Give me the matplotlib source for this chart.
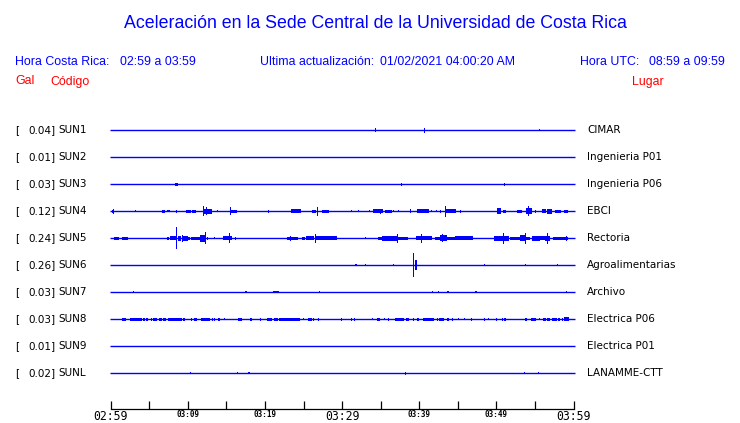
import matplotlib
matplotlib.use("Agg")
import matplotlib.pyplot as plt

# Figure geometry (pixels of a 740x423 picture)
W, H = 740, 423
BLUE = "#0000ff"
RED = "#ff0000"

# Station data, top to bottom
CODES = ["SUN1", "SUN2", "SUN3", "SUN4", "SUN5", "SUN6", "SUN7", "SUN8", "SUN9", "SUNL"]
GALS = ["0.04", "0.01", "0.03", "0.12", "0.24", "0.26", "0.03", "0.03", "0.01", "0.02"]
PLACES = ["CIMAR", "Ingenieria P01", "Ingenieria P06", "EBCI", "Rectoria",
          "Agroalimentarias", "Archivo", "Electrica P06", "Electrica P01", "LANAMME-CTT"]

# Time axis: minutes after 02:59
TICK_MINUTES = list(range(0, 61, 5))
TICK_LABELS = ["02:59", "", "03:09", "", "03:19", "", "03:29", "", "03:39", "", "03:49", "", "03:59"]
BIG_TICKS = ["02:59", "03:29", "03:59"]

# Bursts per trace: (start minute, end minute, half height in trace spacings)
SUN1 = [(34.30, 34.30, 0.07), (40.66, 40.66, 0.09), (55.57, 55.57, 0.04)]
SUN2 = []
SUN3 = [(8.34, 8.69, 0.055), (37.68, 37.68, 0.05), (51.03, 51.03, 0.05)]
SUN4 = [(0.13, 0.47, 0.05), (0.30, 0.30, 0.085), (3.19, 3.19, 0.04), (6.69, 7.04, 0.06),
        (7.30, 7.65, 0.04), (8.50, 8.50, 0.05), (9.80, 10.41, 0.06), (10.58, 11.02, 0.05),
        (11.93, 13.17, 0.10), (12.06, 12.06, 0.19), (12.45, 12.45, 0.15), (13.82, 13.82, 0.03),
        (15.47, 16.38, 0.06), (15.51, 15.51, 0.15), (20.43, 20.43, 0.05), (23.38, 24.67, 0.07),
        (26.06, 26.58, 0.05), (26.84, 26.84, 0.16), (27.36, 28.30, 0.05), (31.25, 31.25, 0.04),
        (32.10, 32.10, 0.04), (33.53, 33.53, 0.03), (34.05, 35.34, 0.07), (35.01, 35.01, 0.10),
        (35.56, 36.43, 0.05), (36.64, 36.64, 0.04), (37.29, 37.29, 0.03), (38.93, 38.93, 0.07),
        (39.67, 41.31, 0.08), (41.62, 41.62, 0.04), (42.27, 42.27, 0.04), (42.82, 42.82, 0.05),
        (43.47, 44.77, 0.07), (43.47, 43.47, 0.20), (45.31, 45.31, 0.05), (50.05, 50.64, 0.11),
        (50.82, 51.25, 0.06), (52.64, 53.33, 0.06), (53.84, 54.62, 0.11), (54.23, 54.23, 0.19),
        (55.01, 55.01, 0.05), (55.88, 56.44, 0.07), (56.53, 57.22, 0.09), (57.60, 58.34, 0.05),
        (58.77, 59.29, 0.05)]
SUN5 = [(0.43, 1.08, 0.05), (1.50, 2.20, 0.05), (6.82, 6.82, 0.025), (7.30, 7.56, 0.05),
        (7.73, 8.43, 0.07), (8.50, 8.50, 0.40), (8.69, 9.11, 0.10), (9.28, 9.28, 0.12),
        (9.21, 9.98, 0.09), (10.06, 10.32, 0.05), (10.50, 10.50, 0.05), (10.58, 11.58, 0.05),
        (11.58, 12.23, 0.12), (12.23, 12.23, 0.22), (12.58, 12.58, 0.05), (13.43, 13.43, 0.04),
        (14.60, 15.69, 0.07), (15.34, 15.34, 0.18), (16.21, 16.21, 0.05), (18.28, 18.28, 0.025),
        (19.58, 19.58, 0.015), (21.21, 21.21, 0.015), (22.82, 24.32, 0.06), (23.29, 23.29, 0.10),
        (24.84, 25.19, 0.05), (25.36, 26.40, 0.07), (26.58, 26.58, 0.17), (26.49, 29.30, 0.07),
        (29.51, 29.51, 0.025), (30.68, 30.68, 0.025), (31.45, 31.45, 0.015), (32.97, 32.97, 0.04),
        (34.69, 35.14, 0.05), (35.14, 37.08, 0.09), (37.16, 37.16, 0.17), (37.29, 38.58, 0.06),
        (39.58, 40.01, 0.07), (40.27, 40.27, 0.17), (40.01, 41.62, 0.07), (42.05, 42.70, 0.06),
        (42.70, 43.56, 0.11), (43.04, 43.04, 0.15), (43.56, 44.64, 0.06), (44.64, 47.01, 0.07),
        (48.75, 48.75, 0.025), (49.27, 49.27, 0.025), (49.69, 50.47, 0.10), (50.90, 50.90, 0.20),
        (50.47, 51.68, 0.10), (51.77, 53.07, 0.06), (53.07, 53.84, 0.11), (53.81, 53.81, 0.20),
        (53.84, 54.36, 0.06), (54.58, 55.66, 0.10), (55.66, 56.31, 0.07), (56.61, 56.61, 0.21),
        (56.31, 56.96, 0.10), (57.38, 59.33, 0.06), (59.12, 59.12, 0.09)]
SUN6 = [(31.67, 31.93, 0.04), (33.01, 33.01, 0.04), (35.08, 35.08, 0.015), (36.64, 36.64, 0.04),
        (39.32, 39.32, 0.45), (39.49, 39.67, 0.18), (48.49, 48.49, 0.04), (53.75, 53.75, 0.04),
        (57.90, 57.90, 0.04)]
SUN7 = [(2.93, 2.93, 0.04), (17.41, 17.67, 0.04), (21.04, 21.82, 0.04), (27.05, 27.05, 0.04),
        (41.75, 41.75, 0.04), (42.56, 42.56, 0.04), (43.56, 43.82, 0.04), (47.23, 47.45, 0.04),
        (59.12, 59.12, 0.03)]
SUN8 = [(0.00, 0.00, 0.06), (1.43, 1.94, 0.05), (2.50, 4.02, 0.05), (4.23, 4.45, 0.05),
        (4.54, 4.87, 0.05), (5.32, 5.32, 0.06), (5.52, 5.96, 0.05), (6.26, 6.61, 0.05),
        (6.82, 7.13, 0.05), (7.47, 9.28, 0.05), (9.41, 9.63, 0.05), (10.41, 10.58, 0.05),
        (10.84, 11.15, 0.05), (11.80, 11.80, 0.06), (11.88, 12.87, 0.05), (13.17, 13.17, 0.06),
        (13.52, 13.52, 0.06), (13.95, 14.21, 0.05), (14.73, 14.73, 0.04), (16.54, 16.98, 0.05),
        (18.06, 18.28, 0.05), (19.40, 19.40, 0.05), (20.23, 20.87, 0.05), (21.21, 21.73, 0.05),
        (21.82, 24.54, 0.05), (24.97, 24.97, 0.04), (25.62, 26.06, 0.05), (26.27, 26.27, 0.05),
        (26.92, 26.92, 0.05), (29.95, 29.95, 0.05), (31.25, 31.25, 0.05), (31.67, 31.67, 0.05),
        (33.97, 33.97, 0.04), (34.57, 34.91, 0.05), (35.56, 35.56, 0.04), (35.99, 35.99, 0.05),
        (36.86, 38.03, 0.05), (38.29, 38.71, 0.05), (39.32, 39.32, 0.05), (39.67, 39.93, 0.05),
        (40.53, 41.92, 0.05), (42.27, 42.47, 0.05), (42.60, 43.21, 0.05), (43.56, 43.82, 0.05),
        (44.21, 44.42, 0.05), (45.07, 45.07, 0.04), (45.81, 45.81, 0.04), (46.80, 46.80, 0.05),
        (48.40, 48.40, 0.05), (48.96, 48.96, 0.04), (50.05, 50.05, 0.05), (50.77, 50.77, 0.05),
        (50.99, 51.25, 0.05), (53.75, 54.01, 0.05), (54.53, 55.14, 0.05), (55.57, 55.57, 0.04),
        (56.01, 56.44, 0.05), (56.61, 56.96, 0.05), (57.22, 57.83, 0.05), (58.03, 58.25, 0.05),
        (58.51, 58.51, 0.05), (58.77, 59.38, 0.075)]
SUN9 = []
SUNL = [(10.32, 10.32, 0.03), (16.41, 16.41, 0.04), (17.93, 17.93, 0.03), (38.16, 38.16, 0.05),
        (53.71, 53.71, 0.04), (55.40, 55.40, 0.03)]
EVENTS = [SUN1, SUN2, SUN3, SUN4, SUN5, SUN6, SUN7, SUN8, SUN9, SUNL]


def fx(px):
    return px / W


def fy(py):
    return 1 - py / H


fig = plt.figure(figsize=(W / 100, H / 100), dpi=100)

# Trace area: bottom spine at y=409 px, first trace at 130 px, spacing 27 px
left, right, top, bottom = 110.7, 573.5, 103.3, 409.0
ax = fig.add_axes([fx(left), fy(bottom), (right - left) / W, (bottom - top) / H])
ax.set_xlim(0, 60)
ax.set_ylim(-(bottom - 373.3) / 27.0, 10)

n = len(CODES)
for i, events in enumerate(EVENTS):
    y = n - 1 - i
    ax.hlines(y, -0.09, 60.2, color=BLUE, lw=1.0, clip_on=False)
    for t0, t1, h in events:
        w = max(t1 - t0, 0.13)
        x0 = t0 - 0.065 if t1 == t0 else t0
        ax.bar(x0, 2 * h, width=w, bottom=y - h, align="edge", color=BLUE, lw=0)

for s in ["left", "right", "top"]:
    ax.spines[s].set_visible(False)
ax.spines["bottom"].set_linewidth(0.9)
ax.set_yticks([])
ax.set_xticks(TICK_MINUTES)
ax.set_xticklabels(TICK_LABELS)
ax.tick_params(axis="x", direction="in", length=6, width=0.9, pad=1, colors="black")
for lab in ax.get_xticklabels():
    lab.set_fontfamily("DejaVu Sans Mono")
    if lab.get_text() in BIG_TICKS:
        lab.set_fontsize(8.3)
    else:
        lab.set_fontsize(5.5)
        lab.set_fontweight("bold")

# Station labels
for i in range(n):
    py = 130.3 + 27.0 * i
    fig.text(fx(15), fy(py), "[", fontsize=7.5, family="DejaVu Sans", va="center")
    fig.text(fx(28), fy(py), GALS[i] + "]", fontsize=7.5, family="DejaVu Sans", va="center")
    fig.text(fx(58.5), fy(py), CODES[i], fontsize=7.5, family="DejaVu Sans", va="center")
    fig.text(fx(587), fy(py), PLACES[i], fontsize=7.5, family="DejaVu Sans", va="center")

# Header texts
sans = "Liberation Sans"
hs = 8.9
fig.text(fx(375), fy(28.5), "Aceleración en la Sede Central de la Universidad de Costa Rica",
         fontsize=12.8, family=sans, color=BLUE, ha="center", va="baseline")
fig.text(fx(15), fy(65), "Hora Costa Rica:", fontsize=hs, family=sans, color=BLUE, va="baseline")
fig.text(fx(120), fy(65), "02:59 a 03:59", fontsize=hs, family=sans, color=BLUE, va="baseline")
fig.text(fx(260), fy(65), "Ultima actualización:", fontsize=hs, family=sans, color=BLUE, va="baseline")
fig.text(fx(380), fy(65), "01/02/2021 04:00:20 AM", fontsize=hs, family=sans, color=BLUE, va="baseline")
fig.text(fx(580), fy(65), "Hora UTC:", fontsize=hs, family=sans, color=BLUE, va="baseline")
fig.text(fx(725), fy(65), "08:59 a 09:59", fontsize=hs, family=sans, color=BLUE, va="baseline", ha="right")
fig.text(fx(15), fy(84.5), "Gal", fontsize=hs, family=sans, color=RED, va="baseline")
fig.text(fx(50), fy(84.5), "Código", fontsize=hs, family=sans, color=RED, va="baseline")
fig.text(fx(632), fy(84.5), "Lugar", fontsize=hs, family=sans, color=RED, va="baseline")

fig.savefig("out.png", dpi=100)
